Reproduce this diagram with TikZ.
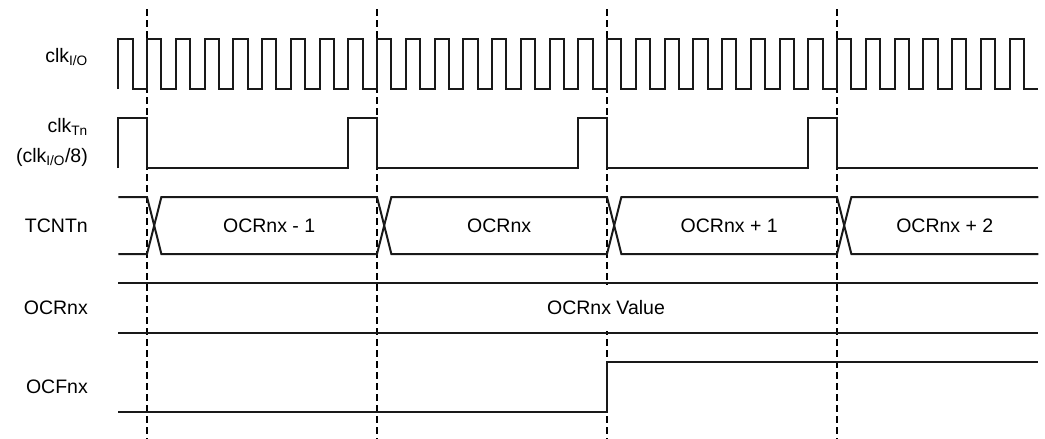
\documentclass[tikz,border=0pt]{standalone}
\usepackage{fontspec}
\setmainfont{Liberation Sans}
\usetikzlibrary{positioning}

\begin{document}
\begin{tikzpicture}[
    x=1pt, y=-1pt,
    % --- Global Styles ---
    wave/.style={line width=2pt, line join=miter, color=black!90},
    marker/.style={line width=1.3pt, dash pattern=on 7pt off 4pt},
    siglabel/.style={anchor=base east, inner sep=0pt, font=\fontsize{19.5}{23}\selectfont},
    buslabel/.style={anchor=base, inner sep=0pt, font=\fontsize{19.5}{23}\selectfont}
]

    \useasboundingbox (0,0) rectangle (1045,439);

    % --- Time Markers ---
    \foreach \t in {147,377,607,837}
        \draw[marker] (\t,9) -- (\t,439);

    % --- Signal Names ---
    \node[siglabel] (clkio) at (88,62) {clk\textsubscript{I/O}};
    \node[siglabel] (clktn) at (88,132) {clk\textsubscript{Tn}};
    \node[siglabel] (clkdiv) at (88,162) {(clk\textsubscript{I/O}/8)};
    \node[siglabel] (tcnt) at (88,232) {TCNTn};
    \node[siglabel] (ocr) at (88,314) {OCRnx};
    \node[siglabel] (ocf) at (88,393) {OCFnx};

    % --- Waveforms ---
    % I/O clock: 8 periods per timer tick
    \draw[wave] (118.25,89) \foreach \k in {0,...,31} {
        -- ++(0,-50) -- ++(14.375,0) -- ++(0,50) -- ++(14.375,0)};

    % prescaled timer clock
    \draw[wave] (118.25,168) -- ++(0,-50) -- ++(28.75,0) -- ++(0,50)
        \foreach \k in {0,1,2} {-- ++(201.25,0) -- ++(0,-50) -- ++(28.75,0) -- ++(0,50)}
        -- (1038.25,168);

    % counter bus with crossings
    \draw[wave] (118.25,197) -- (147,197) -- (161.4,254) -- (377,254) -- (391.4,197)
        -- (607,197) -- (621.4,254) -- (837,254) -- (851.4,197) -- (1038.25,197);
    \draw[wave] (118.25,254) -- (147,254) -- (161.4,197) -- (377,197) -- (391.4,254)
        -- (607,254) -- (621.4,197) -- (837,197) -- (851.4,254) -- (1038.25,254);
    \node[buslabel] (cnta) at (269.2,232) {OCRnx - 1};
    \node[buslabel] (cntb) at (499.2,232) {OCRnx};
    \node[buslabel] (cntc) at (729.2,232) {OCRnx + 1};
    \node[buslabel] (cntd) at (944.8,232) {OCRnx + 2};

    % compare register, constant (value box hides the marker)
    \node[buslabel, anchor=center, fill=white, minimum height=46pt, inner sep=2pt] (ocrval) at (606,308) {OCRnx Value};
    \draw[wave] (118.25,283) -- (1038.25,283);
    \draw[wave] (118.25,333) -- (1038.25,333);

    % flag set on compare match
    \draw[wave] (118.25,412) -- (607,412) -- (607,362) -- (1038.25,362);

\end{tikzpicture}
\end{document}
